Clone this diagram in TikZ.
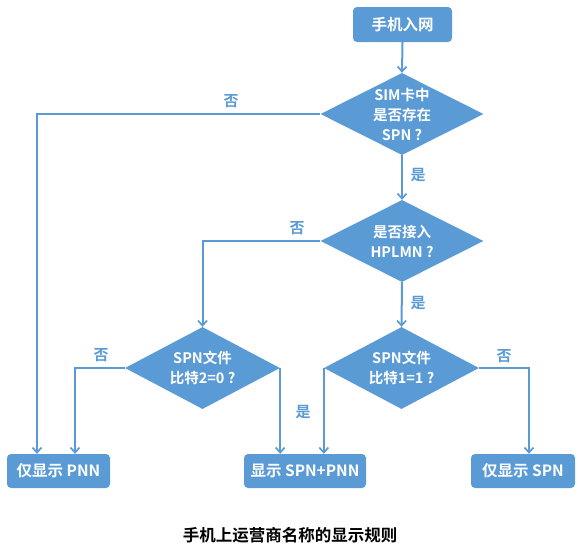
\documentclass[tikz,border=0pt]{standalone}
\usepackage{fontspec}
\setmainfont{Noto Sans CJK SC}
\newfontfamily\cjkb{Noto Sans CJK SC Bold}
\usetikzlibrary{shapes.geometric,arrows.meta}
\definecolor{fblue}{HTML}{5B9BD5}
\begin{document}
\begin{tikzpicture}[x=1pt,y=-1pt,
  box/.style={draw=none,fill=fblue,rounded corners=4pt,text=white,font=\cjkb\fontsize{15.5}{18}\selectfont,inner sep=0pt,minimum height=34pt},
  dia/.style={diamond,draw=none,fill=fblue,text=white,font=\cjkb\fontsize{14.5}{20}\selectfont,inner sep=0pt,aspect=2,align=center,minimum width=#1},
  conn/.style={draw=fblue,line width=2pt,-{Straight Barb[length=5pt,width=9pt,line width=1.7pt]}},
  lab/.style={text=fblue,font=\cjkb\fontsize{15}{18}\selectfont,inner sep=0pt}]
\useasboundingbox (0,0) rectangle (578,547);
\node[box,minimum width=99pt,minimum height=35pt] (start) at (402.5,24.5) {手机入网};
\node[dia=163pt,minimum height=82pt] (d1) at (402,114) {SIM卡中\\是否存在\\SPN ?};
\node[dia=163pt,minimum height=82pt] (d2) at (402,241) {是否接入\\HPLMN ?};
\node[dia=155pt,minimum height=82pt] (d3) at (202.5,368) {SPN文件\\比特2=0 ?};
\node[dia=155pt,minimum height=82pt] (d4) at (401.5,368) {SPN文件\\比特1=1 ?};
\node[box,minimum width=103pt] (pnn) at (58.5,471) {仅显示 PNN};
\node[box,minimum width=122pt] (both) at (305,471) {显示 SPN+PNN};
\node[box,minimum width=104pt] (spn) at (523,471) {仅显示 SPN};
\node[font=\cjkb\fontsize{16.5}{18}\selectfont,inner sep=0pt] (title) at (290,535) {手机上运营商名称的显示规则};

\draw[conn] (start.south) -- (d1.north);
\draw[conn] (d1.west) -| ([xshift=-21.5pt]pnn.north);
\node[lab] (l1) at (231,101) {否};
\draw[conn] (d1.south) -- (d2.north);
\node[lab] (l2) at (418,175) {是};
\draw[conn] (d2.west) -| (d3.north);
\node[lab] (l3) at (297,228) {否};
\draw[conn] (d2.south) -- (d4.north);
\node[lab] (l4) at (418,303) {是};
\draw[conn] (d3.west) -| ([xshift=16.5pt]pnn.north);
\node[lab] (l5) at (101,355) {否};
\draw[conn] (d3.east) -- (d3.east |- both.north);
\node[lab] (l6) at (303,412) {是};
\draw[conn] (d4.west) -- (d4.west |- both.north);
\draw[conn] (d4.east) -| ([xshift=6pt]spn.north);
\node[lab] (l7) at (504,356) {否};
\end{tikzpicture}
\end{document}
